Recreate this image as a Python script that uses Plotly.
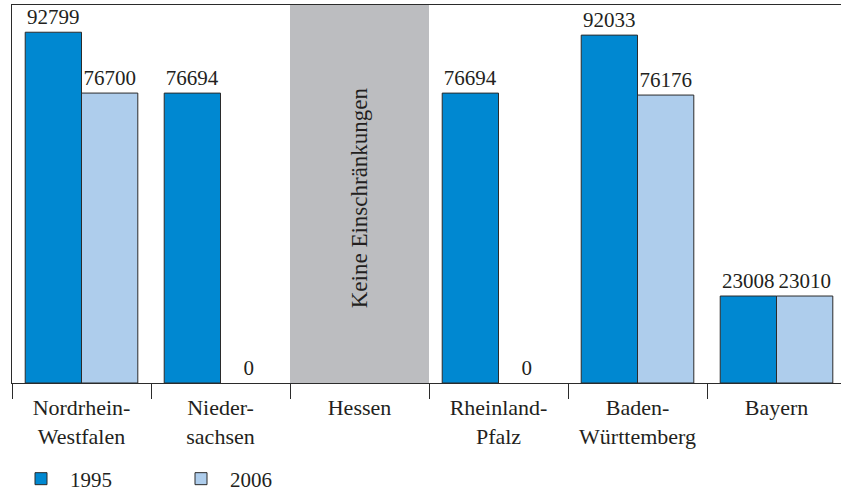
import plotly.graph_objects as go

categories = ["Nordrhein-<br>Westfalen", "Nieder-<br>sachsen", "Hessen",
              "Rheinland-<br>Pfalz", "Baden-<br>Württemberg", "Bayern"]
values_1995 = [92799, 76694, None, 76694, 92033, 23008]
values_2006 = [76700, 0, None, 0, 76176, 23010]
series_names = ["1995", "2006"]
grey_category = "Hessen"
grey_label = "Keine Einschränkungen"
y_max = 100000

FONT = "Liberation Serif, Times New Roman, Times, serif"
TXT = "#231f20"
colors = ["#0088d1", "#aecdec"]

fig = go.Figure()
for name, vals, col in zip(series_names, [values_1995, values_2006], colors):
    fig.add_trace(go.Bar(
        name=name, x=categories, y=vals,
        marker=dict(color=col, line=dict(color="#2b2b2b",
                                         width=[1 if v else 0 for v in vals])),
        text=["" if v is None else str(v) for v in vals],
        textposition="outside", cliponaxis=False,
        textfont=dict(family=FONT, size=21, color=TXT),
        hoverinfo="skip",
    ))

gi = categories.index(grey_category)
fig.add_shape(type="rect", xref="x", yref="y", x0=gi - 0.5, x1=gi + 0.5,
              y0=0, y1=y_max, fillcolor="#bcbdc0", line=dict(width=0), layer="below")
fig.add_annotation(x=grey_category, y=y_max * 0.49, xref="x", yref="y",
                   text=grey_label, textangle=-90, showarrow=False,
                   font=dict(family=FONT, size=23, color=TXT))

fig.update_layout(
    width=841, height=492,
    margin=dict(l=12, r=0, t=5, b=109, autoexpand=False),
    paper_bgcolor="white", plot_bgcolor="white",
    barmode="group", bargap=0.19, bargroupgap=0,
    font=dict(family=FONT, size=21, color=TXT),
    showlegend=True,
    legend=dict(orientation="h", x=0, xanchor="left", y=-0.254, yanchor="middle",
                font=dict(family=FONT, size=21, color=TXT), entrywidth=97,
                itemwidth=48, bgcolor="rgba(0,0,0,0)"),
)
fig.update_xaxes(range=[-0.5, 5.464], showline=True, linecolor="#2b2b2b", linewidth=1,
                 mirror=True, ticks="outside", tickson="boundaries", ticklen=15,
                 tickcolor="#2b2b2b", tickwidth=1, showgrid=False, automargin=False,
                 ticklabelstandoff=5,
                 tickfont=dict(family=FONT, size=22, color=TXT), fixedrange=True)
fig.update_yaxes(range=[0, y_max], showline=True, linecolor="#2b2b2b", linewidth=1,
                 showticklabels=False, ticks="", showgrid=False, zeroline=False,
                 automargin=False, fixedrange=True)

fig.write_html("out.html", config={"displayModeBar": False},
               post_script="document.body.style.margin='0';document.body.style.overflow='hidden';")
